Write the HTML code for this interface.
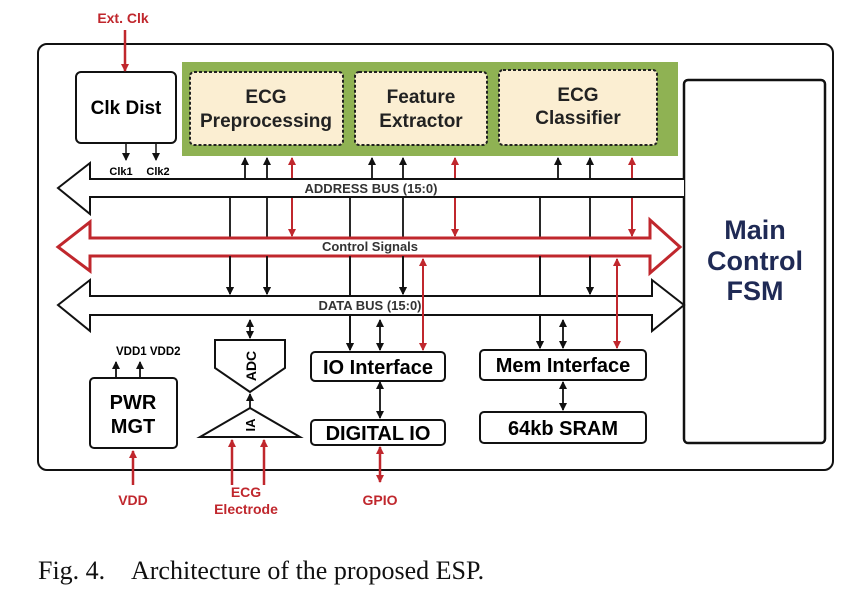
<!DOCTYPE html>
<html><head><style>body{margin:0;background:#fff}svg{display:block}</style></head><body>
<svg width="843" height="602" viewBox="0 0 843 602" xmlns="http://www.w3.org/2000/svg" font-family="Liberation Sans, sans-serif" font-weight="bold">
<defs>
<marker id="ab" markerWidth="8" markerHeight="8" refX="7" refY="4" orient="auto" markerUnits="userSpaceOnUse"><path d="M0,0 L8,4 L0,8 z" fill="#111"/></marker>
<marker id="ar" markerWidth="8" markerHeight="8" refX="7" refY="4" orient="auto" markerUnits="userSpaceOnUse"><path d="M0,0 L8,4 L0,8 z" fill="#c0272d"/></marker>
<marker id="abs" markerWidth="8" markerHeight="8" refX="1" refY="4" orient="auto" markerUnits="userSpaceOnUse"><path d="M8,0 L0,4 L8,8 z" fill="#111"/></marker>
<marker id="ars" markerWidth="8" markerHeight="8" refX="1" refY="4" orient="auto" markerUnits="userSpaceOnUse"><path d="M8,0 L0,4 L8,8 z" fill="#c0272d"/></marker>
</defs>
<rect x="38" y="44" width="795" height="426" rx="9" fill="none" stroke="#111" stroke-width="2"/>
<rect x="182" y="62" width="496" height="94" fill="#8fb253"/>
<g fill="#fbeed2" stroke="#222" stroke-width="2" stroke-dasharray="3,2">
<rect x="190" y="72" width="153" height="73" rx="4"/>
<rect x="355" y="72" width="132" height="73" rx="4"/>
<rect x="499" y="70" width="158" height="75" rx="4"/>
</g>
<g font-size="19" text-anchor="middle" fill="#222">
<text x="266" y="103">ECG</text><text x="266" y="127">Preprocessing</text>
<text x="421" y="103">Feature</text><text x="421" y="127">Extractor</text>
<text x="578" y="101">ECG</text><text x="578" y="124">Classifier</text>
</g>
<rect x="76" y="72" width="100" height="71" rx="5" fill="#fff" stroke="#111" stroke-width="2"/>
<text x="126" y="114" font-size="19" text-anchor="middle">Clk Dist</text>
<text x="123" y="23" font-size="14" text-anchor="middle" fill="#c0272d">Ext. Clk</text>
<line x1="125" y1="30" x2="125" y2="71" stroke="#c0272d" stroke-width="2.5" marker-end="url(#ar)"/>
<line x1="126" y1="143" x2="126" y2="160" stroke="#111" stroke-width="1.5" marker-end="url(#ab)"/>
<line x1="156" y1="143" x2="156" y2="160" stroke="#111" stroke-width="1.5" marker-end="url(#ab)"/>
<text x="121" y="175" font-size="11" text-anchor="middle">Clk1</text>
<text x="158" y="175" font-size="11" text-anchor="middle">Clk2</text>
<rect x="684" y="80" width="141" height="363" rx="4" fill="#fff" stroke="#111" stroke-width="2.5"/>
<g font-size="27" text-anchor="middle" fill="#1f2a55">
<text x="755" y="239">Main</text><text x="755" y="270">Control</text><text x="755" y="300">FSM</text>
</g>
<path d="M684,179 H90 V163 L58,188 L90,214 V197 H684" fill="#fff" stroke="#111" stroke-width="2"/>
<text x="371" y="193" font-size="13" text-anchor="middle" fill="#333">ADDRESS BUS (15:0)</text>
<g stroke="#111" stroke-width="1.8">
<line x1="230" y1="197" x2="230" y2="294" marker-end="url(#ab)"/>
<line x1="267" y1="197" x2="267" y2="294" marker-end="url(#ab)"/>
<line x1="350" y1="197" x2="350" y2="350" marker-end="url(#ab)"/>
<line x1="403" y1="197" x2="403" y2="294" marker-end="url(#ab)"/>
<line x1="540" y1="197" x2="540" y2="348" marker-end="url(#ab)"/>
<line x1="590" y1="197" x2="590" y2="294" marker-end="url(#ab)"/>
<line x1="245" y1="179" x2="245" y2="158" marker-end="url(#ab)"/>
<line x1="267" y1="179" x2="267" y2="158" marker-end="url(#ab)"/>
<line x1="372" y1="179" x2="372" y2="158" marker-end="url(#ab)"/>
<line x1="403" y1="179" x2="403" y2="158" marker-end="url(#ab)"/>
<line x1="558" y1="179" x2="558" y2="158" marker-end="url(#ab)"/>
<line x1="590" y1="179" x2="590" y2="158" marker-end="url(#ab)"/>
</g>
<path d="M650,238 H90 V222 L58,247 L90,271 V256 H650 V273 L680,247 L650,220 Z" fill="#fff" stroke="#c0272d" stroke-width="3"/>
<text x="370" y="251" font-size="13" text-anchor="middle" fill="#333">Control Signals</text>
<g stroke="#111" stroke-width="1.8">
<line x1="230" y1="256" x2="230" y2="294" marker-end="url(#ab)"/>
<line x1="267" y1="256" x2="267" y2="294" marker-end="url(#ab)"/>
<line x1="350" y1="256" x2="350" y2="296"/>
<line x1="403" y1="256" x2="403" y2="294" marker-end="url(#ab)"/>
<line x1="540" y1="256" x2="540" y2="296"/>
<line x1="590" y1="256" x2="590" y2="294" marker-end="url(#ab)"/>
</g>
<path d="M652,296 H90 V280 L58,305 L90,331 V315 H652 V331 L684,305 L652,280 Z" fill="#fff" stroke="#111" stroke-width="2"/>
<text x="370" y="310" font-size="13" text-anchor="middle" fill="#333">DATA BUS (15:0)</text>
<g stroke="#111" stroke-width="1.8">
<line x1="350" y1="315" x2="350" y2="350" marker-end="url(#ab)"/>
<line x1="540" y1="315" x2="540" y2="348" marker-end="url(#ab)"/>
<line x1="250" y1="320" x2="250" y2="338" marker-start="url(#abs)" marker-end="url(#ab)"/>
<line x1="380" y1="320" x2="380" y2="350" marker-start="url(#abs)" marker-end="url(#ab)"/>
<line x1="563" y1="320" x2="563" y2="348" marker-start="url(#abs)" marker-end="url(#ab)"/>
<line x1="380" y1="382" x2="380" y2="418" marker-start="url(#abs)" marker-end="url(#ab)"/>
<line x1="563" y1="382" x2="563" y2="410" marker-start="url(#abs)" marker-end="url(#ab)"/>
</g>
<g stroke="#c0272d" stroke-width="2">
<line x1="292" y1="178" x2="292" y2="158" marker-end="url(#ar)"/>
<line x1="455" y1="178" x2="455" y2="158" marker-end="url(#ar)"/>
<line x1="632" y1="178" x2="632" y2="158" marker-end="url(#ar)"/>
<line x1="292" y1="198" x2="292" y2="236" marker-end="url(#ar)"/>
<line x1="455" y1="198" x2="455" y2="236" marker-end="url(#ar)"/>
<line x1="632" y1="198" x2="632" y2="236" marker-end="url(#ar)"/>
<line x1="423" y1="350" x2="423" y2="259" marker-end="url(#ar)"/>
<line x1="617" y1="348" x2="617" y2="259" marker-end="url(#ar)"/>
<line x1="423" y1="316" x2="423" y2="350" marker-end="url(#ar)"/>
<line x1="617" y1="316" x2="617" y2="348" marker-end="url(#ar)"/>
</g>
<g fill="#fff" stroke="#111" stroke-width="2">
<rect x="311" y="352" width="134" height="29" rx="4"/>
<rect x="311" y="420" width="134" height="25" rx="4"/>
<rect x="480" y="350" width="166" height="30" rx="4"/>
<rect x="480" y="412" width="166" height="31" rx="4"/>
<rect x="90" y="378" width="87" height="70" rx="4"/>
</g>
<g font-size="20" text-anchor="middle">
<text x="378" y="374">IO Interface</text>
<text x="378" y="440">DIGITAL IO</text>
<text x="563" y="372">Mem Interface</text>
<text x="563" y="435">64kb SRAM</text>
<text x="133" y="409">PWR</text><text x="133" y="433">MGT</text>
</g>
<g stroke="#111" stroke-width="1.8">
<line x1="116" y1="378" x2="116" y2="362" marker-end="url(#ab)"/>
<line x1="140" y1="378" x2="140" y2="362" marker-end="url(#ab)"/>
</g>
<text x="116" y="355" font-size="11.5">VDD1 VDD2</text>
<path d="M215,340 H285 V368 L250,392 L215,368 Z" fill="#fff" stroke="#111" stroke-width="2"/>
<text transform="translate(256,366) rotate(-90)" font-size="14" text-anchor="middle">ADC</text>
<line x1="250" y1="410" x2="250" y2="394" stroke="#111" stroke-width="1.8" marker-end="url(#ab)"/>
<path d="M250,408 L300,437 L200,437 Z" fill="#fff" stroke="#111" stroke-width="2"/>
<text transform="translate(255,425) rotate(-90)" font-size="13" text-anchor="middle">IA</text>
<g stroke="#c0272d" stroke-width="2.5">
<line x1="133" y1="485" x2="133" y2="451" marker-end="url(#ar)"/>
<line x1="232" y1="485" x2="232" y2="440" marker-end="url(#ar)"/>
<line x1="264" y1="485" x2="264" y2="440" marker-end="url(#ar)"/>
<line x1="380" y1="447" x2="380" y2="482" marker-start="url(#ars)" marker-end="url(#ar)"/>
</g>
<g font-size="14" text-anchor="middle" fill="#c0272d">
<text x="133" y="505">VDD</text>
<text x="246" y="497">ECG</text><text x="246" y="514">Electrode</text>
<text x="380" y="505">GPIO</text>
</g>
<text x="38" y="579" font-family="Liberation Serif, serif" font-weight="normal" font-size="26" fill="#111">Fig. 4.<tspan x="131">Architecture of the proposed ESP.</tspan></text>
</svg>
</body></html>
